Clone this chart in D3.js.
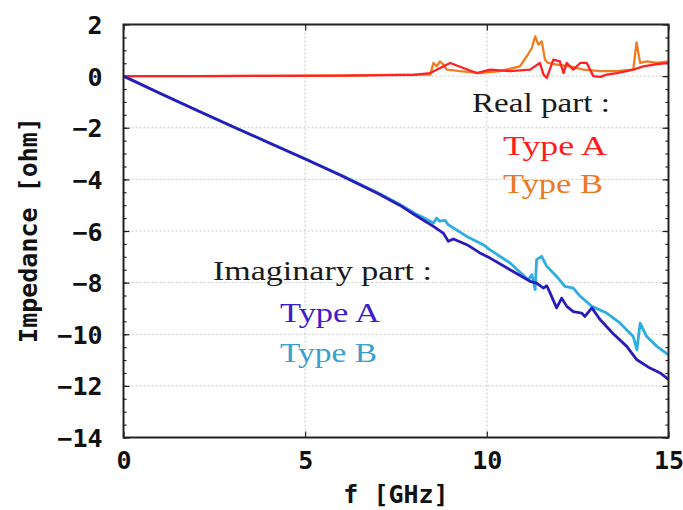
<!DOCTYPE html>
<html><head><meta charset="utf-8">
<script src="https://d3js.org/d3.v7.min.js"></script>
<style>body{margin:0;background:#fff}svg{display:block}</style>
</head><body>
<svg id="c" width="683" height="510"></svg>
<script>
// ---- data ----
const xTicks = [0, 5, 10, 15];
const yTicks = [2, 0, -2, -4, -6, -8, -10, -12, -14];

const fImagA = [0,1,2,3,4,5,6,7,7.6,8.0,8.53,8.8,8.94,9.08,9.45,9.81,10.09,10.64,11.19,11.37,11.56,11.65,11.74,11.92,12.06,12.2,12.38,12.61,12.7,12.89,13.12,13.48,13.85,14.13,14.49,14.77,15];
const imagA  = [0,-0.66,-1.31,-1.95,-2.58,-3.21,-3.86,-4.55,-5.0,-5.36,-5.82,-6.08,-6.4,-6.31,-6.53,-6.85,-7.05,-7.5,-7.95,-8.02,-8.21,-8.12,-8.4,-8.98,-8.6,-8.92,-9.12,-9.18,-9.31,-8.98,-9.44,-9.98,-10.47,-10.99,-11.31,-11.5,-11.75];

const fImagB = [0,1,2,3,4,5,6,7,7.6,8.0,8.3,8.53,8.62,8.7,8.85,8.94,9.45,9.9,10.09,10.64,11.14,11.24,11.33,11.37,11.51,11.65,11.79,11.92,12.15,12.38,12.57,12.89,13.3,13.67,14.03,14.13,14.22,14.4,14.68,15];
const imagB  = [0,-0.66,-1.31,-1.95,-2.58,-3.2,-3.84,-4.52,-4.96,-5.3,-5.52,-5.69,-5.5,-5.62,-5.59,-5.76,-6.21,-6.53,-6.73,-7.24,-7.89,-7.69,-8.27,-7.11,-6.98,-7.37,-7.57,-7.76,-8.15,-8.21,-8.53,-8.92,-9.18,-9.57,-10.09,-10.6,-9.57,-10.09,-10.47,-10.8];

const fRealA = [0,2,4,6,8,8.44,8.99,9.72,10.09,10.64,11.19,11.46,11.56,11.65,11.83,12.01,12.11,12.2,12.38,12.57,12.75,12.93,13.12,13.3,13.58,14.03,14.31,14.6,15];
const realA  = [0,0,0.01,0.02,0.05,0.12,0.51,0.12,0.25,0.19,0.25,0.51,0.06,-0.07,0.64,0.57,0.12,0.51,0.25,0.51,0.51,0,-0.03,0.06,0.12,0.25,0.38,0.45,0.51];

const fRealB = [0,2,4,6,7.61,8.44,8.53,8.62,8.71,8.8,8.9,9.26,9.81,10.36,10.91,11.1,11.24,11.33,11.42,11.51,11.6,11.69,11.92,12.29,12.66,13.12,13.58,14.03,14.12,14.22,14.4,14.68,15];
const realB  = [0,0,0.01,0.02,0.06,0.06,0.51,0.38,0.57,0.45,0.25,0.19,0.12,0.19,0.38,0.77,1.09,1.54,1.22,1.35,0.64,0.51,0.45,0.38,0.25,0.19,0.19,0.25,1.31,0.51,0.57,0.51,0.57];

// ---- layout ----
const svg = d3.select("#c");
const x = d3.scaleLinear().domain([0, 15]).range([123.5, 668.5]);
const y = d3.scaleLinear().domain([-14, 2]).range([437.5, 24.5]);

const X0 = x(0), X1 = x(15), Y0 = y(-14), Y1 = y(2);

// grid
const g = svg.append("g");
g.selectAll(".gx").data(xTicks.slice(1, -1)).enter().append("line")
  .attr("x1", d => x(d)).attr("x2", d => x(d)).attr("y1", Y1).attr("y2", Y0)
  .attr("stroke", "#c8c8c8").attr("stroke-width", 1).attr("stroke-dasharray", "2,2");
g.selectAll(".gy").data(yTicks.slice(1, -1)).enter().append("line")
  .attr("x1", X0).attr("x2", X1).attr("y1", d => y(d)).attr("y2", d => y(d))
  .attr("stroke", "#c8c8c8").attr("stroke-width", 1).attr("stroke-dasharray", "2,2");

// axes (inner ticks)
const font = "'DejaVu Sans Mono', monospace";
const yMinor = d3.range(-14, 2.01, 0.5);
function tickAxis(axisGen, tx, ty) {
  const a = svg.append("g").attr("transform", `translate(${tx},${ty})`).call(axisGen);
  a.select(".domain").remove();
  a.selectAll("line").attr("stroke", "#222").attr("stroke-width", 1.2);
  return a;
}
// left
const la = tickAxis(d3.axisLeft(y).tickValues(yTicks).tickSize(-6).tickPadding(21).tickFormat(d => d < 0 ? "\u2212" + Math.abs(d) : d), X0, 0);
la.selectAll("text").attr("font-family", font).attr("font-size", 25).attr("font-weight", 600).attr("fill", "#111").attr("dy", "0.36em");
tickAxis(d3.axisLeft(y).tickValues(yMinor).tickSize(-3).tickFormat(""), X0, 0);
// right
tickAxis(d3.axisRight(y).tickValues(yTicks).tickSize(-6).tickFormat(""), X1, 0);
tickAxis(d3.axisRight(y).tickValues(yMinor).tickSize(-3).tickFormat(""), X1, 0);
// bottom
const ba = tickAxis(d3.axisBottom(x).tickValues(xTicks).tickSize(-6).tickPadding(14).tickFormat(d3.format("d")), 0, Y0);
ba.selectAll("text").attr("font-family", font).attr("font-size", 25).attr("font-weight", 600).attr("fill", "#111");
// top
tickAxis(d3.axisTop(x).tickValues(xTicks).tickSize(-6).tickFormat(""), 0, Y1);

// lines
const line = d3.line().x(d => x(d[0])).y(d => y(d[1]));
const zip = (a, b) => a.map((v, i) => [v, b[i]]);
const clip = svg.append("clipPath").attr("id", "pc").append("rect")
  .attr("x", X0).attr("y", Y1).attr("width", X1 - X0).attr("height", Y0 - Y1);
const lg = svg.append("g").attr("clip-path", "url(#pc)");
lg.append("path").attr("d", line(zip(fRealB, realB))).attr("fill", "none").attr("stroke", "#f07c22").attr("stroke-width", 2.3).attr("stroke-linejoin", "round");
lg.append("path").attr("d", line(zip(fRealA, realA))).attr("fill", "none").attr("stroke", "#ff2222").attr("stroke-width", 2.3).attr("stroke-linejoin", "round");
lg.append("path").attr("d", line(zip(fImagB, imagB))).attr("fill", "none").attr("stroke", "#2eaee0").attr("stroke-width", 2.8).attr("stroke-linejoin", "round");
lg.append("path").attr("d", line(zip(fImagA, imagA))).attr("fill", "none").attr("stroke", "#2a1cbc").attr("stroke-width", 2.8).attr("stroke-linejoin", "round");

// frame
svg.append("rect").attr("x", X0).attr("y", Y1).attr("width", X1 - X0).attr("height", Y0 - Y1)
  .attr("fill", "none").attr("stroke", "#222").attr("stroke-width", 2);

// axis titles
svg.append("text").attr("x", x(7.5)).attr("y", 503).attr("text-anchor", "middle")
  .attr("font-family", font).attr("font-size", 25).attr("font-weight", 600).attr("fill", "#111").text("f [GHz]");
svg.append("text").attr("transform", `translate(37,230) rotate(-90)`).attr("text-anchor", "middle")
  .attr("font-family", font).attr("font-size", 25).attr("font-weight", 600).attr("fill", "#111").text("Impedance [ohm]");

// annotations
const serif = "'Liberation Serif', 'Times New Roman', serif";
function label(tx, ty, txt, col, len) {
  svg.append("text").attr("x", tx).attr("y", ty).attr("font-family", serif).attr("font-size", 27)
    .attr("fill", col).attr("textLength", len).attr("lengthAdjust", "spacingAndGlyphs").text(txt);
}
label(472, 112, "Real part :", "#1a1a1a", 138);
label(503, 155, "Type A", "#ff1a1a", 104);
label(503, 193, "Type B", "#ea7a22", 100);
label(213, 280, "Imaginary part :", "#1a1a1a", 219);
label(280, 322, "Type A", "#3a1ccc", 100);
label(280, 362, "Type B", "#3aa0d0", 97);
</script>
</body></html>
